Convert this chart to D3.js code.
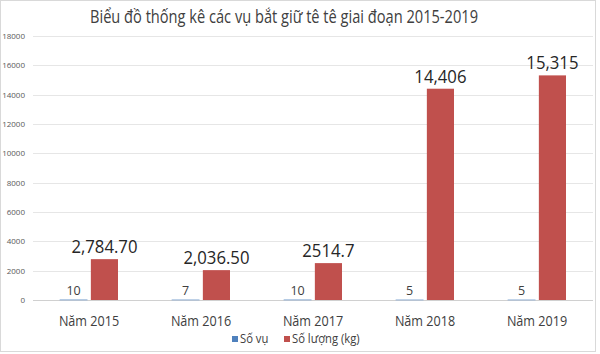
<!DOCTYPE html>
<html>
<head>
<meta charset="utf-8">
<script src="https://cdn.jsdelivr.net/npm/d3@7"></script>
<style>
  body { margin: 0; background: #fff; }
  svg { font-family: "Open Sans", "Noto Sans", sans-serif; }
</style>
</head>
<body>
<div id="chart"></div>
<script>
// data
const years = ["Năm 2015", "Năm 2016", "Năm 2017", "Năm 2018", "Năm 2019"];
const seriesNames = ["Số vụ", "Số lượng (kg)"];
const soVu = [10, 7, 10, 5, 5];
const soLuong = [2784.7, 2036.5, 2514.7, 14406, 15315];
const soLuongLabels = ["2,784.70", "2,036.50", "2514.7", "14,406", "15,315"];
const yTicks = [0, 2000, 4000, 6000, 8000, 10000, 12000, 14000, 16000, 18000];
const colors = ["#4f81bd", "#c0504d"];

const svgWidth = 600, svgHeight = 354;
const margin = { top: 36, right: 7, bottom: 54, left: 33 };

// original looks like Calibri, which is narrower than Open Sans, so squeeze text a bit
function narrow(sel, f) {
    sel.each(function () {
        const w = this.getComputedTextLength();
        d3.select(this)
            .attr("textLength", w * f)
            .attr("lengthAdjust", "spacingAndGlyphs");
    });
}

const svg = d3.select("#chart")
    .append("svg")
    .attr("width", svgWidth)
    .attr("height", svgHeight);

// light frame round the chart
svg.append("rect")
    .attr("x", 0.5).attr("y", 0.5)
    .attr("width", 595).attr("height", 351)
    .attr("fill", "none")
    .attr("stroke", "#d9d9d9");

const y = d3.scaleLinear()
    .domain([0, 18000])
    .range([svgHeight - margin.bottom, margin.top]);

const x0 = d3.scaleBand()
    .domain(years)
    .range([margin.left, svgWidth - margin.right]);

const groupW = 58;
const x1 = d3.scaleBand()
    .domain(seriesNames)
    .range([x0.bandwidth() / 2 - groupW / 2, x0.bandwidth() / 2 + groupW / 2])
    .paddingInner(0.12);

// grid lines
svg.append("g")
    .selectAll("line")
    .data(yTicks)
    .enter()
    .append("line")
    .attr("x1", margin.left)
    .attr("x2", svgWidth - margin.right)
    .attr("y1", d => Math.round(y(d)) + 0.5)
    .attr("y2", d => Math.round(y(d)) + 0.5)
    .attr("stroke", d => d === 0 ? "#d0d0d0" : "#e6e6e6");

// y tick labels
svg.append("g")
    .selectAll("text")
    .data(yTicks)
    .enter()
    .append("text")
    .attr("x", 25)
    .attr("y", d => y(d) + 3)
    .attr("text-anchor", "end")
    .attr("font-size", "8px")
    .attr("fill", "#595959")
    .text(d => d);

const rows = years.map((yr, i) => ({ year: yr, vals: [soVu[i], soLuong[i]], label: soLuongLabels[i] }));

const groups = svg.selectAll(".grp")
    .data(rows)
    .enter()
    .append("g")
    .attr("class", "grp")
    .attr("transform", d => `translate(${x0(d.year)},0)`);

groups.selectAll("rect")
    .data(d => d.vals.map((v, k) => ({ k: k, v: v })))
    .enter()
    .append("rect")
    .attr("x", d => x1(seriesNames[d.k]))
    .attr("y", d => y(d.v))
    .attr("width", x1.bandwidth())
    .attr("height", d => y(0) - y(d.v))
    .attr("fill", d => colors[d.k])
    .attr("stroke", d => d.k === 0 ? "#8fb0d6" : "none")
    .attr("stroke-width", 0.8);

// big labels over the red bars
groups.append("text")
    .attr("class", "bigLabel")
    .attr("x", x1(seriesNames[1]) + x1.bandwidth() / 2)
    .attr("y", d => y(d.vals[1]) - 6)
    .attr("text-anchor", "middle")
    .attr("font-size", "19px")
    .attr("fill", "#262626")
    .text(d => d.label);
narrow(svg.selectAll(".bigLabel"), 0.88);

// small labels over the blue bars
groups.append("text")
    .attr("x", x1(seriesNames[0]) + x1.bandwidth() / 2)
    .attr("y", d => y(d.vals[0]) - 5)
    .attr("text-anchor", "middle")
    .attr("font-size", "12.5px")
    .attr("fill", "#404040")
    .text(d => d.vals[0]);

// category labels
const catLabels = svg.append("g")
    .selectAll("text")
    .data(years)
    .enter()
    .append("text")
    .attr("x", d => x0(d) + x0.bandwidth() / 2)
    .attr("y", 326)
    .attr("text-anchor", "middle")
    .attr("font-size", "14px")
    .attr("fill", "#404040")
    .text(d => d);
narrow(catLabels, 0.9);

// title
svg.append("text")
    .attr("x", 284)
    .attr("y", 23)
    .attr("text-anchor", "middle")
    .attr("font-size", "18.5px")
    .attr("fill", "#404040")
    .attr("textLength", 388)
    .attr("lengthAdjust", "spacingAndGlyphs")
    .text("Biểu đồ thống kê các vụ bắt giữ tê tê giai đoạn 2015-2019");

// legend
const legendX = [232, 284];
const legend = svg.append("g");
seriesNames.forEach((name, k) => {
    legend.append("rect")
        .attr("x", legendX[k])
        .attr("y", 336)
        .attr("width", 6)
        .attr("height", 6)
        .attr("fill", colors[k]);
    legend.append("text")
        .attr("class", "legText")
        .attr("x", legendX[k] + 8)
        .attr("y", 343)
        .attr("font-size", "12.5px")
        .attr("fill", "#404040")
        .text(name);
});
narrow(svg.selectAll(".legText"), 0.9);
</script>
</body>
</html>
